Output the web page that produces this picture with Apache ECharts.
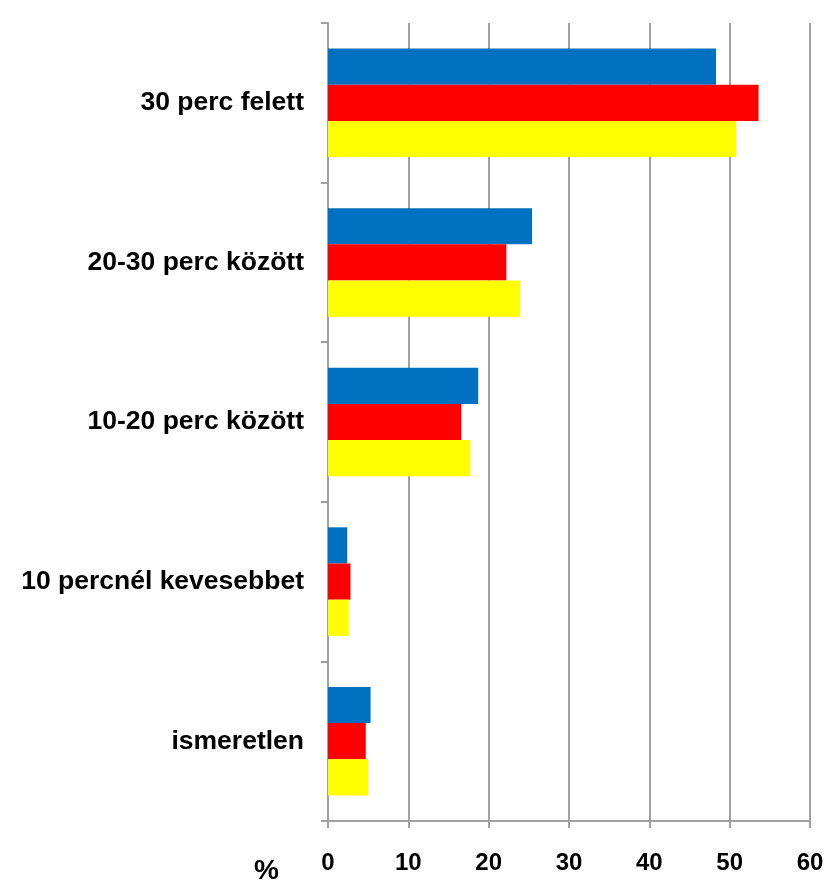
<!DOCTYPE html>
<html>
<head>
    <meta charset="UTF-8">
    <title>Idő megoszlása</title>
    <script src="https://cdn.jsdelivr.net/npm/echarts@6/dist/echarts.min.js"></script>
    <style>
        body { margin: 0; background: #fff; }
        #chart { width: 840px; height: 880px; }
    </style>
</head>
<body>
    <div id="chart"></div>
    <script type="text/javascript">
        // categories, top to bottom
        var categories = ['30 perc felett', '20-30 perc között', '10-20 perc között', '10 percnél kevesebbet', 'ismeretlen'];
        var xTicks = [0, 10, 20, 30, 40, 50, 60];

        // values in %
        var blueValues = [48.3, 25.4, 18.7, 2.4, 5.3];
        var redValues = [53.6, 22.2, 16.6, 2.8, 4.7];
        var yellowValues = [50.8, 23.9, 17.7, 2.6, 5.0];

        var chart = echarts.init(document.getElementById('chart'));
        var grayLine = '#a0a0a0';
        var labelFont = 'Liberation Sans, Arial, sans-serif';

        var option = {
            animation: false,
            title: {
                text: '%',
                left: 249,
                top: 852,
                textStyle: { fontFamily: labelFont, fontWeight: 'bold', fontSize: 28, color: '#000' }
            },
            grid: {
                left: 328,
                right: 30,
                top: 23,
                bottom: 59,
                containLabel: false
            },
            xAxis: {
                type: 'value',
                min: xTicks[0],
                max: xTicks[xTicks.length - 1],
                interval: 10,
                axisLine: { show: true, lineStyle: { color: grayLine, width: 2 } },
                axisTick: { show: true, length: 7, lineStyle: { color: grayLine, width: 2 } },
                splitLine: { show: true, lineStyle: { color: grayLine, width: 2 } },
                axisLabel: {
                    margin: 30,
                    fontFamily: labelFont,
                    fontWeight: 'bold',
                    fontSize: 24,
                    color: '#000'
                }
            },
            yAxis: {
                type: 'category',
                data: categories,
                inverse: true,
                axisLine: { show: true, lineStyle: { color: grayLine, width: 2 } },
                axisTick: { show: true, length: 7, lineStyle: { color: grayLine, width: 2 } },
                axisLabel: {
                    margin: 24,
                    fontFamily: labelFont,
                    fontWeight: 'bold',
                    fontSize: 26.5,
                    color: '#000'
                }
            },
            series: [
                {
                    name: 'kék',
                    type: 'bar',
                    data: blueValues,
                    barGap: '0%',
                    barCategoryGap: '32%',
                    itemStyle: { color: '#0070C0' }
                },
                {
                    name: 'piros',
                    type: 'bar',
                    data: redValues,
                    itemStyle: { color: '#FF0000' }
                },
                {
                    name: 'sárga',
                    type: 'bar',
                    data: yellowValues,
                    itemStyle: { color: '#FFFF00' }
                }
            ]
        };

        chart.setOption(option);
    </script>
</body>
</html>
